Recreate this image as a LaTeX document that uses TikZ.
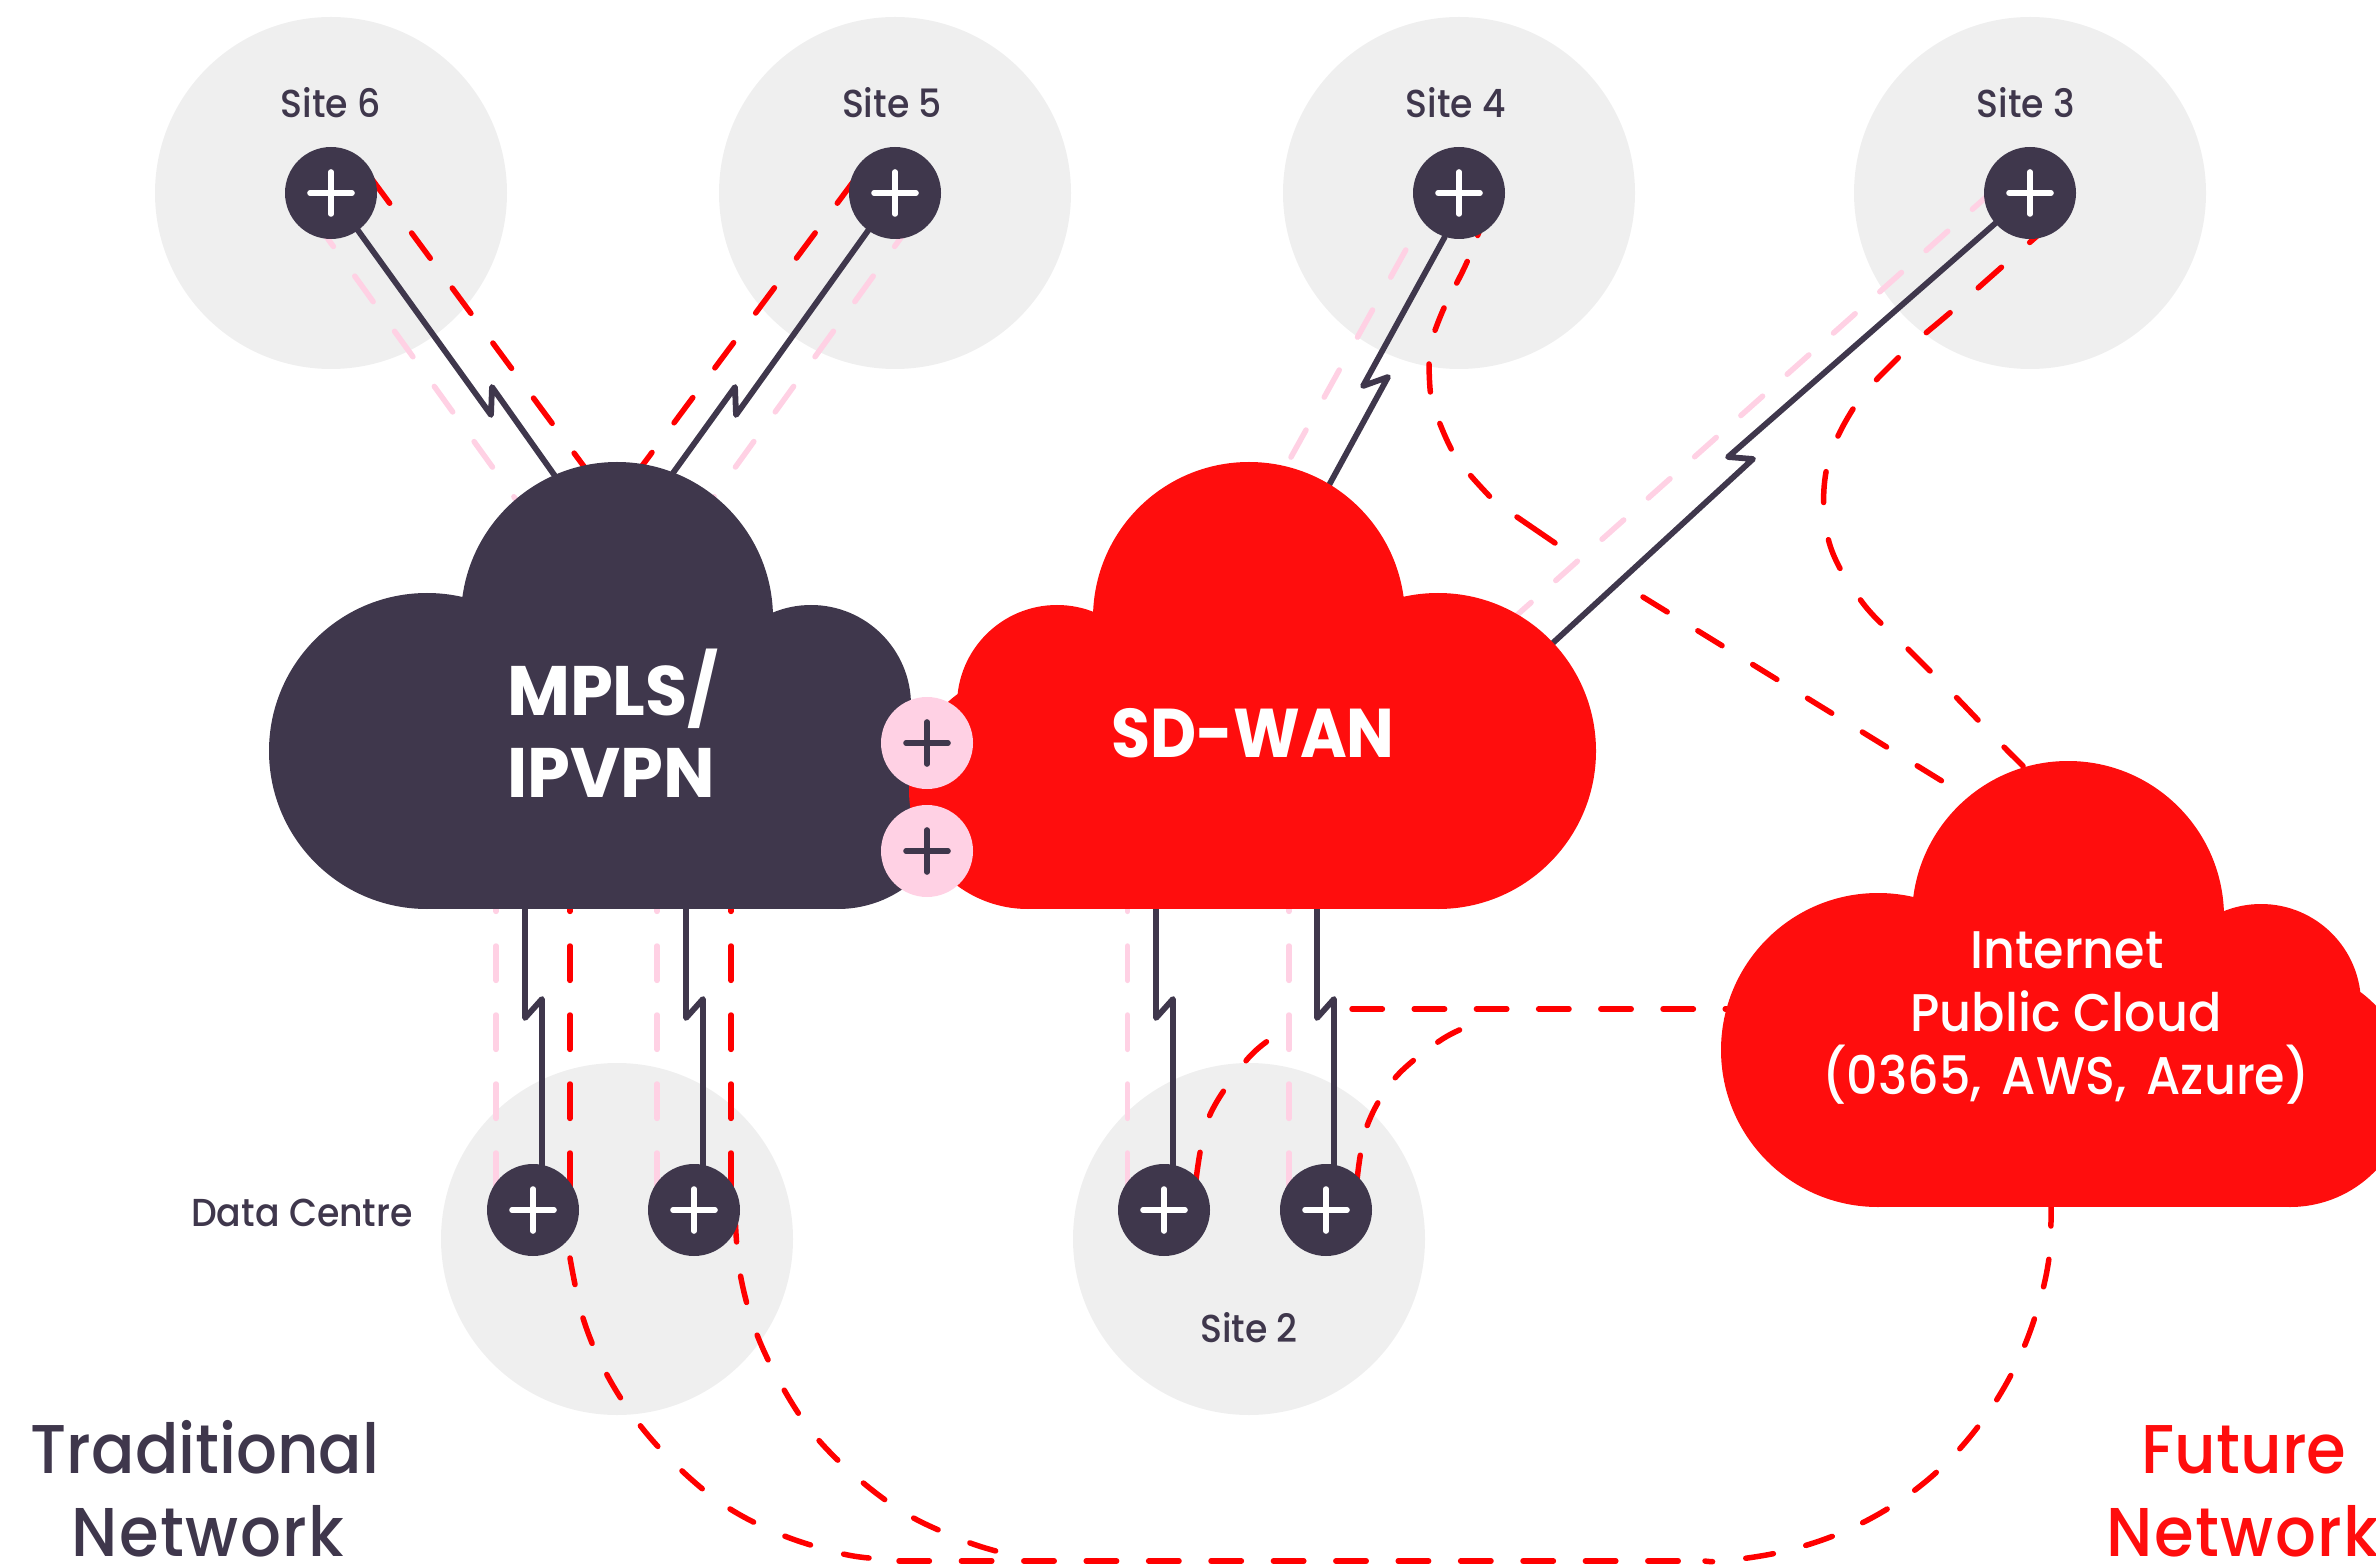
\documentclass[tikz,border=0pt]{standalone}
\usepackage{fontspec}
\setmainfont{Poppins}
\newfontfamily\medf{Poppins Medium}[FakeStretch=0.93]
\newfontfamily\boldf{Poppins}[BoldFeatures={FakeStretch=0.92}]
\newfontfamily\boldw{Poppins}[BoldFeatures={FakeStretch=0.98}]
\definecolor{ink}{HTML}{3F374C}
\definecolor{redfill}{HTML}{FF0D0D}
\definecolor{redline}{HTML}{FF0000}
\definecolor{pinky}{HTML}{FFD1E4}
\definecolor{greyc}{HTML}{EFEFEF}
\pgfdeclarelayer{greys}\pgfdeclarelayer{wires}\pgfdeclarelayer{clouds}
\pgfsetlayers{greys,wires,clouds,main}
\tikzset{
 hub/.style={circle,minimum size=46pt,inner sep=0pt,fill=ink,
  path picture={\draw[white,line width=2.8pt,line cap=round]
   ([shift={(-10.5pt,0pt)}]path picture bounding box.center) -- ([shift={(10.5pt,0pt)}]path picture bounding box.center)
   ([shift={(0pt,-10.5pt)}]path picture bounding box.center) -- ([shift={(0pt,10.5pt)}]path picture bounding box.center);}},
 hubpink/.style={circle,minimum size=46pt,inner sep=0pt,fill=pinky,
  path picture={\draw[ink,line width=2.8pt,line cap=round]
   ([shift={(-10.5pt,0pt)}]path picture bounding box.center) -- ([shift={(10.5pt,0pt)}]path picture bounding box.center)
   ([shift={(0pt,-10.5pt)}]path picture bounding box.center) -- ([shift={(0pt,10.5pt)}]path picture bounding box.center);}},
 wire/.style={line width=2.9pt,line cap=round,line join=round,draw=ink},
 pinkdash/.style 2 args={line width=2.75pt,line cap=round,draw=pinky,dash pattern=on #1pt off #2pt},
 reddash/.style 2 args={line width=2.75pt,line cap=round,draw=redline,dash pattern=on #1pt off #2pt},
 sitelabel/.style={anchor=base,text=ink,inner sep=0pt,font=\medf\fontsize{19.5pt}{20pt}\selectfont},
 biglabel/.style={anchor=base,inner sep=0pt,font=\medf\fontsize{34.5pt}{41.5pt}\selectfont},
 cloudbold/.style={anchor=base,text=white,inner sep=0pt,font=\boldf\bfseries\fontsize{34.5pt}{40.5pt}\selectfont},
 cloudwide/.style={anchor=base,text=white,inner sep=0pt,font=\boldw\bfseries\fontsize{35pt}{40.5pt}\selectfont},
 cloudmed/.style={anchor=base,text=white,inner sep=0pt,font=\medf\fontsize{26.5pt}{31.5pt}\selectfont},
}
\begin{document}
\begin{tikzpicture}[x=0.5pt,y=-0.5pt]
\useasboundingbox (0,0) rectangle (2376,1566);
% hubs
\node[hub] (s6) at (331,193) {};
\node[hub] (s5) at (895,193) {};
\node[hub] (s4) at (1459,193) {};
\node[hub] (s3) at (2030,193) {};
\node[hub] (dc1) at (533,1210) {};
\node[hub] (dc2) at (694,1210) {};
\node[hub] (s2a) at (1164,1210) {};
\node[hub] (s2b) at (1326,1210) {};
\node[hubpink] (gw1) at (927,743) {};
\node[hubpink] (gw2) at (927,851) {};
% labels
\node[sitelabel] (l6) at (331,118) {Site 6};
\node[sitelabel] (l5) at (892,118) {Site 5};
\node[sitelabel] (l4) at (1456,118) {Site 4};
\node[sitelabel] (l3) at (2026,118) {Site 3};
\node[sitelabel] (l2) at (1249,1342) {Site 2};
\node[sitelabel] (ldc) at (302,1226) {Data Centre};
\node[cloudwide] (mpls) at (613,716) {MPLS/};
\node[cloudwide] (ipvpn) at (611,797) {IPVPN};
\node[cloudbold] (sdwan) at (1253,757) {SD-WAN};
\node[cloudmed] (inet1) at (2067,968) {Internet};
\node[cloudmed] (inet2) at (2066,1031) {Public Cloud};
\node[cloudmed] (inet3) at (2066,1094) {\spaceskip=0.38em (0365, AWS, Azure)};
\node[biglabel,text=ink] (trad1) at (205,1473) {Traditional};
\node[biglabel,text=ink] (trad2) at (208,1556) {\addfontfeature{LetterSpace=2}Network};
\node[biglabel,text=redfill] (fut1) at (2244,1473) {Future};
\node[biglabel,text=redfill] (fut2) at (2243,1556) {\addfontfeature{LetterSpace=2}Network};
% free ends
\coordinate (p6a) at (315,221); \coordinate (p6b) at (540,533);
\coordinate (p5a) at (913,221); \coordinate (p5b) at (690,530);
\coordinate (p4a) at (1439,190); \coordinate (p4b) at (1270,495);
\coordinate (p3a) at (1994,190); \coordinate (p3b) at (1480,648);
\coordinate (r6a) at (371,178); \coordinate (r6b) at (591,476);
\coordinate (r5a) at (856,178); \coordinate (r5b) at (636,474);
\coordinate (m6) at (555,476); \coordinate (m5) at (673,473);
\coordinate (c4) at (1310,520); \coordinate (c3) at (1530,664);
\coordinate (hA) at (1352,1009); \coordinate (hB) at (1730,1009);
\begin{pgfonlayer}{greys}
\fill[greyc] (331,193) circle (88pt) (895,193) circle (88pt) (1459,193) circle (88pt) (2030,193) circle (88pt)
 (617,1239) circle (88pt) (1249,1239) circle (88pt);
\end{pgfonlayer}
\begin{pgfonlayer}{wires}
% pale diagonals
\draw[pinkdash={15.7}{18.3}] (p6a) -- (p6b);
\draw[pinkdash={15.7}{18.3}] (p5a) -- (p5b);
\draw[pinkdash={15.5}{18.8}] (p4a) -- (p4b);
\draw[pinkdash={14.5}{16.5}] (p3a) -- (p3b);
% pale verticals
\foreach \xx in {496,657,1127.5,1289}
 \draw[pinkdash={17.2}{17.3}] (\xx,877) -- (\xx,1205);
% red verticals
\foreach \xx in {570,731}
 \draw[reddash={17.2}{17.3}] (\xx,877) -- (\xx,1205);
% red diagonals
\draw[reddash={15.7}{18.5}] (r6a) -- (r6b);
\draw[reddash={15.7}{18.5}] (r5a) -- (r5b);
% red curves
\draw[reddash={12}{14}] plot[smooth,tension=0.6] coordinates {(1486,213) (1467,262) (1444,308) (1433,336)};
\draw[reddash={14}{16.5}] plot[smooth,tension=0.6] coordinates {(1429,364) (1431,397) (1440,424) (1454,454) (1471,476) (1494,501)};
\draw[line width=2.75pt,line cap=round,draw=redline] (1517,517) -- (1555,543);
\draw[reddash={14.2}{18}] (1643,597) -- (1950,786);
\draw[reddash={15.5}{18.8}] plot[smooth,tension=0.6] coordinates {(2053,222) (2004,265) (1952,311) (1899,357) (1853,409) (1826,472) (1829,542) (1862,602) (1908,649) (1954,695) (1998,741) (2023,766)};
\draw[reddash={14}{19}] plot[smooth,tension=0.6] coordinates {(1196,1180) (1209,1117) (1245,1062) (1269,1040)};
\draw[reddash={12.5}{15.3}] plot[smooth,tension=0.6] coordinates {(1357,1180) (1367,1126) (1395,1078) (1438,1042) (1464,1028)};
\draw[reddash={15.2}{15.9}] (hA) -- (hB);
\draw[reddash={13.5}{17.2}] plot[smooth,tension=0.6] coordinates {(570,1258) (583,1318) (606,1373) (639,1424) (680,1469) (727,1507) (782,1535) (839,1553) (869,1558)};
\draw[reddash={13.5}{17.2}] plot[smooth,tension=0.6] coordinates {(735,1215) (740,1273) (756,1332) (783,1388) (816,1437) (861,1481) (910,1516) (965,1541) (996,1551)};
\draw[reddash={15.2}{16}] (899,1561) -- (1688,1561);
\draw[reddash={14}{16.7}] plot[smooth,tension=0.6] coordinates {(2051,1198) (2049,1258) (2035,1317) (2012,1373) (1980,1424) (1940,1469) (1892,1506) (1838,1534) (1781,1552) (1724,1561) (1705,1561)};
% zigzag links
\draw[wire] (s6.center) -- (491,415) -- (492,387) -- (m6);
\draw[wire] (s5.center) -- (736,415) -- (735,387) -- (m5);
\draw[wire] (s4.252) -- (1363,386) -- (1388,377) -- (c4);
\draw[wire] (s3.center) -- (1728,457) -- (1753,459) -- (c3);
\draw[wire] (525,880) -- (525,1018) -- (542,999) -- (542,1190);
\draw[wire] (686,880) -- (686,1018) -- (703,999) -- (703,1190);
\draw[wire] (1156,880) -- (1156,1018) -- (1173,999) -- (1173,1190);
\draw[wire] (1317,880) -- (1317,1018) -- (1334,999) -- (1334,1190);
\end{pgfonlayer}
\begin{pgfonlayer}{clouds}
% MPLS cloud
\fill[ink] (427,751) circle (79pt) (617,618) circle (78pt) (811,705) circle (50pt) (838,794) circle (57.5pt);
\fill[ink] (427,650) rectangle (838,909);
% SD-WAN cloud
\fill[redfill] (1438,751) circle (79pt) (1249,618) circle (78pt) (1057,705) circle (50pt) (1028,790) circle (59.5pt);
\fill[redfill] (1028,650) rectangle (1438,909);
% Internet cloud
\fill[redfill] (1878,1050) circle (78.5pt) (2068,917) circle (78pt) (2261,1004) circle (50pt) (2290,1088) circle (59.5pt);
\fill[redfill] (1878,930) rectangle (2290,1207);
\end{pgfonlayer}
\end{tikzpicture}
\end{document}
